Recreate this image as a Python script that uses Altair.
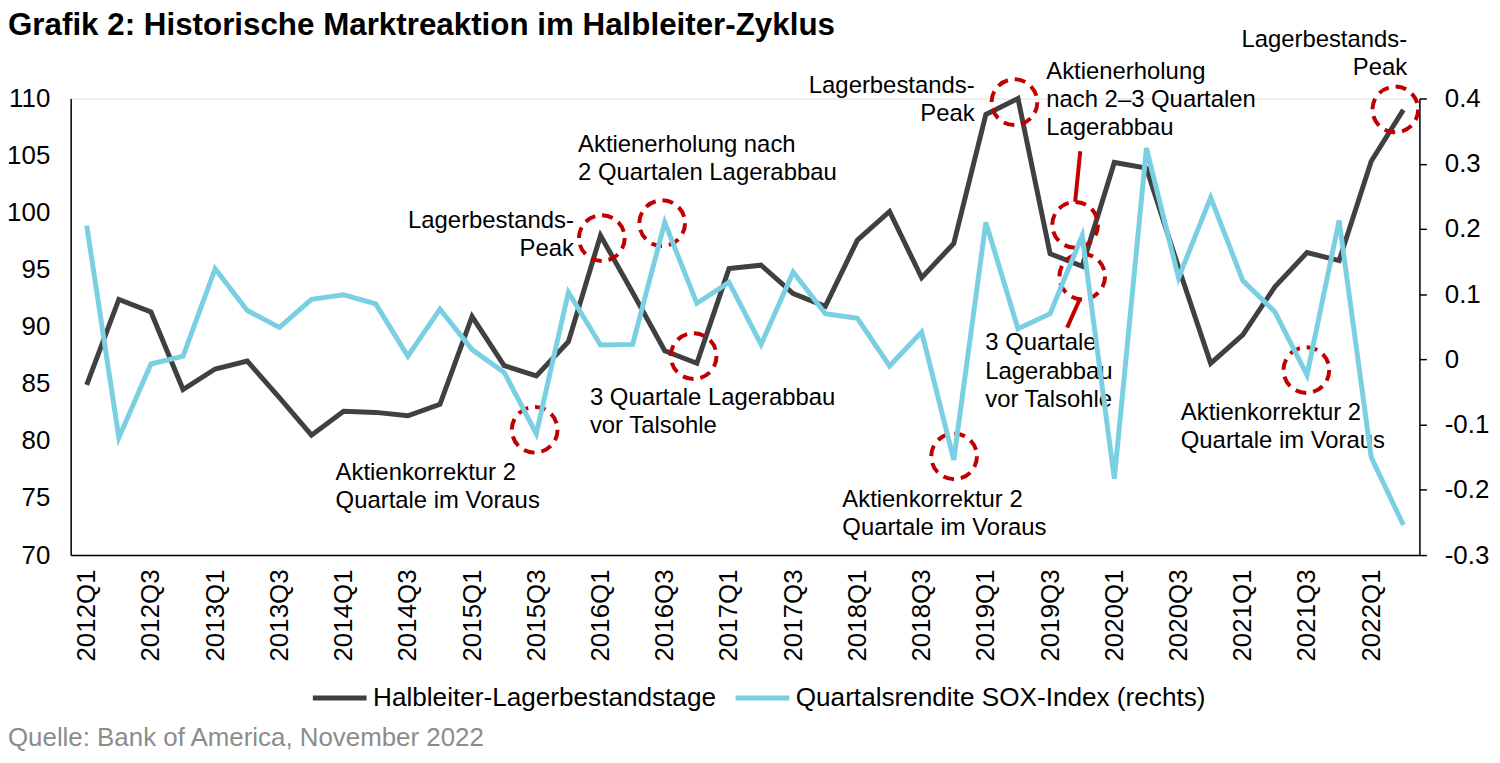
import altair as alt
import pandas as pd

FONT = "Liberation Sans"

quarters = [f"{y}Q{q}" for y in range(2012, 2023) for q in range(1, 5)][:42]

lagertage = [84.9, 92.4, 91.3, 84.5, 86.3, 87.0, 83.8, 80.5, 82.6, 82.5,
             82.2, 83.2, 90.9, 86.6, 85.7, 88.7, 98.0, 93.0, 87.9, 86.8,
             95.1, 95.4, 92.9, 91.8, 97.6, 100.1, 94.3, 97.3, 108.6, 110.0,
             96.4, 95.3, 104.4, 103.9, 95.2, 86.8, 89.3, 93.5, 96.5, 95.8,
             104.5, 109.0]

sox = [0.205, -0.120, -0.007, 0.005, 0.139, 0.075, 0.049, 0.092, 0.099, 0.085,
       0.005, 0.077, 0.015, -0.020, -0.114, 0.103, 0.022, 0.023, 0.210, 0.086,
       0.118, 0.023, 0.134, 0.070, 0.063, -0.010, 0.042, -0.154, 0.210, 0.047,
       0.070, 0.190, -0.183, 0.324, 0.125, 0.248, 0.121, 0.073, -0.024, 0.213,
       -0.150, -0.254]

series_names = ["Halbleiter-Lagerbestandstage", "Quartalsrendite SOX-Index (rechts)"]
series_colors = ["#404040", "#7ACFE2"]

# annotation texts (position in quarter index / left-axis units)
ann_left_text = ["Aktienerholung nach\n2 Quartalen Lagerabbau",
                 "3 Quartale Lagerabbau\nvor Talsohle",
                 "Aktienkorrektur 2\nQuartale im Voraus",
                 "Aktienkorrektur 2\nQuartale im Voraus",
                 "Aktienerholung\nnach 2\u20133 Quartalen\nLagerabbau",
                 "3 Quartale\nLagerabbau\nvor Talsohle",
                 "Aktienkorrektur 2\nQuartale im Voraus"]
ann_left_x = [15.30, 15.67, 7.75, 23.53, 29.88, 27.98, 34.07]
ann_left_y = [105.32, 83.16, 76.62, 74.24, 111.74, 87.95, 81.85]

ann_right_text = ["Lagerbestands-\nPeak", "Lagerbestands-\nPeak", "Lagerbestands-\nPeak"]
ann_right_x = [15.17, 27.65, 41.12]
ann_right_y = [98.67, 110.5, 114.53]

circle_x = [13.95, 16.04, 17.92, 18.90, 27.01, 28.89, 30.78, 31.0, 37.98, 40.75]
circle_y = [80.98, 97.77, 99.08, 87.43, 78.65, 109.68, 98.93, 94.40, 86.21, 109.04]

pointer_x = [30.94, 30.93]
pointer_y = [105.38, 92.46]
pointer_x2 = [30.78, 30.53]
pointer_y2 = [100.96, 89.93]

title_text = "Grafik 2: Historische Marktreaktion im Halbleiter-Zyklus"
source_text = "Quelle: Bank of America, November 2022"

df = pd.DataFrame({"idx": list(range(len(quarters))), "quarter": quarters,
                   "lager": lagertage, "sox": sox})

label_expr = "[" + ",".join(f"'{q}'" for q in quarters) + "][datum.value]"

x_enc = alt.X("idx:Q",
              scale=alt.Scale(domain=[-0.5, len(quarters) - 0.5], nice=False, zero=False),
              axis=alt.Axis(values=list(range(0, len(quarters), 2)), labelExpr=label_expr,
                            labelAngle=-90, ticks=False, grid=False, domainColor="black",
                            domainWidth=1.5, labelFontSize=26, labelPadding=14,
                            labelFlush=False, labelOverlap=False, labelBound=False,
                            title=None))

y_left = alt.Y("lager:Q",
               scale=alt.Scale(domain=[70, 110], nice=False, zero=False),
               axis=alt.Axis(values=list(range(70, 111, 5)), ticks=False, tickSize=0,
                             grid=False, domainColor="black", domainWidth=1.5,
                             labelFontSize=26, labelPadding=21, title=None))

y_right = alt.Y("sox:Q",
                scale=alt.Scale(domain=[-0.3, 0.4], nice=False, zero=False),
                axis=alt.Axis(orient="right",
                              values=[-0.3, -0.2, -0.1, 0, 0.1, 0.2, 0.3, 0.4],
                              labelExpr="datum.value == 0 ? '0' : (datum.value < 0 ? '-' + format(-datum.value, '.1f') : format(datum.value, '.1f'))",
                              ticks=True, tickSize=7, tickColor="black", tickWidth=1.5,
                              grid=False, domainColor="black", domainWidth=1.5,
                              labelFontSize=26, labelPadding=18, labelAlign="left",
                              title=None))

color_scale = alt.Scale(domain=series_names, range=series_colors)
legend = alt.Legend(orient="none", legendX=241, legendY=573, direction="horizontal",
                    title=None, labelFontSize=26.3, labelFont=FONT, labelColor="black",
                    labelLimit=0, symbolType="stroke", symbolSize=2916,
                    symbolStrokeWidth=5, labelOffset=4, columnPadding=8, padding=0)

dark = alt.Chart(df).transform_calculate(series=f"'{series_names[0]}'").mark_line(
    strokeWidth=5, strokeCap="butt", strokeJoin="miter").encode(
    x=x_enc, y=y_left,
    color=alt.Color("series:N", scale=color_scale, legend=legend))

blue = alt.Chart(df).transform_calculate(series=f"'{series_names[1]}'").mark_line(
    strokeWidth=5, strokeCap="butt", strokeJoin="miter").encode(
    x=x_enc, y=y_right,
    color=alt.Color("series:N", scale=color_scale, legend=legend))

circ_df = pd.DataFrame({"idx": circle_x, "lager": circle_y})
circles = alt.Chart(circ_df).mark_point(shape="circle", size=2116, filled=False,
                                        stroke="#C00000", strokeWidth=4,
                                        strokeDash=[11, 7], opacity=1).encode(
    x=x_enc, y=y_left)

ptr_df = pd.DataFrame({"idx": pointer_x, "lager": pointer_y,
                       "idx2": pointer_x2, "lager2": pointer_y2})
pointers = alt.Chart(ptr_df).mark_rule(color="#C00000", strokeWidth=4).encode(
    x=x_enc, y=y_left, x2="idx2:Q", y2="lager2:Q")

annl_df = pd.DataFrame({"idx": ann_left_x, "lager": ann_left_y, "t": ann_left_text})
ann_left = alt.Chart(annl_df).mark_text(align="left", baseline="alphabetic", lineBreak="\n",
                                        lineHeight=28.5, fontSize=24, font=FONT,
                                        color="black").encode(
    x=x_enc, y=y_left, text="t:N")

annr_df = pd.DataFrame({"idx": ann_right_x, "lager": ann_right_y, "t": ann_right_text})
ann_right = alt.Chart(annr_df).mark_text(align="right", baseline="alphabetic", lineBreak="\n",
                                         lineHeight=28.5, fontSize=24, font=FONT,
                                         color="black").encode(
    x=x_enc, y=y_left, text="t:N")

title = alt.Chart(pd.DataFrame({"t": [title_text]})).mark_text(
    align="left", baseline="alphabetic", fontSize=31.5, fontWeight="bold", font=FONT,
    color="black").encode(x=alt.value(-63), y=alt.value(-64), text="t:N")

source = alt.Chart(pd.DataFrame({"t": [source_text]})).mark_text(
    align="left", baseline="alphabetic", fontSize=26, font=FONT,
    color="#8C8C8C").encode(x=alt.value(-63), y=alt.value(651), text="t:N")

left_layer = alt.layer(dark, circles, pointers, ann_left, ann_right, title, source)
right_layer = alt.layer(blue)

chart = alt.layer(left_layer, right_layer).resolve_scale(y="independent").properties(
    width=1356, height=459,
    autosize=alt.AutoSizeParams(type="none"),
    padding={"left": 63, "top": 89, "right": 73, "bottom": 197},
).configure_view(stroke=None).configure_axis(
    labelFont=FONT, labelColor="black"
).configure(background="white")

chart.save("out.html", embed_options={"renderer": "svg", "actions": False})
